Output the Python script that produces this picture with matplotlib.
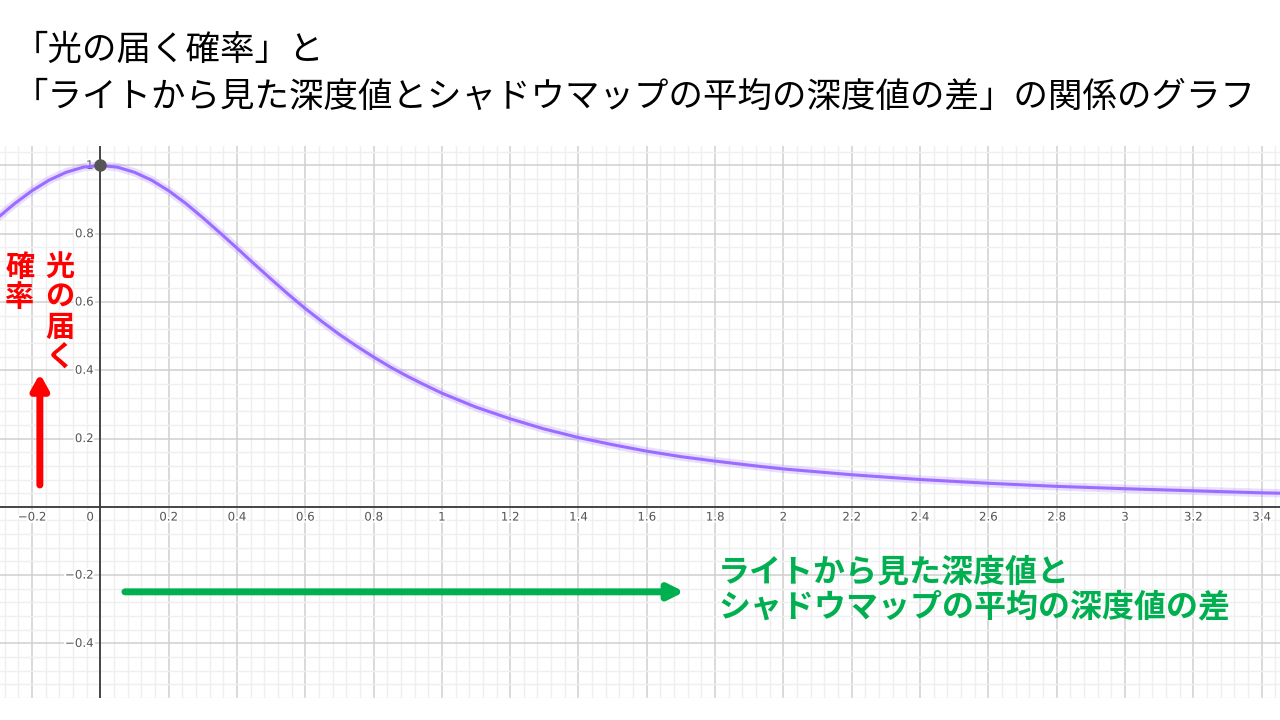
import numpy as np
import matplotlib.pyplot as plt
import matplotlib.patheffects as pe

plt.rcParams['font.family'] = ['Noto Sans CJK JP', 'DejaVu Sans']

# ================== DATA ============================================
depth_diff = [-0.3, -0.25, -0.2, -0.15, -0.1, -0.05, 0.0, 0.05, 0.1, 0.15, 0.2, 0.25,
              0.3, 0.35, 0.4, 0.45, 0.5, 0.55, 0.6, 0.65, 0.7, 0.75, 0.8, 0.85, 0.9,
              0.95, 1.0, 1.1, 1.2, 1.3, 1.4, 1.5, 1.6, 1.7, 1.8, 1.9, 2.0, 2.2, 2.4,
              2.6, 2.8, 3.0, 3.2, 3.4, 3.5]
light_prob = [0.847, 0.889, 0.926, 0.957, 0.980, 0.995, 1.0, 0.995, 0.980, 0.957, 0.926, 0.889,
              0.847, 0.803, 0.758, 0.712, 0.667, 0.623, 0.581, 0.542, 0.505, 0.471, 0.439, 0.409, 0.382,
              0.357, 0.333, 0.292, 0.258, 0.228, 0.203, 0.182, 0.163, 0.147, 0.134, 0.122, 0.111, 0.094, 0.080,
              0.069, 0.060, 0.053, 0.047, 0.041, 0.039]
peak = (0.0, 1.0)

x_ticks = [-0.2, 0.2, 0.4, 0.6, 0.8, 1, 1.2, 1.4, 1.6, 1.8, 2, 2.2, 2.4, 2.6, 2.8, 3, 3.2, 3.4]
y_ticks = [-0.4, -0.2, 0.2, 0.4, 0.6, 0.8, 1]

title_lines = ["「光の届く確率」と",
               "「ライトから見た深度値とシャドウマップの平均の深度値の差」の関係のグラフ"]
y_label_cols = ["光\nの\n届\nく", "確\n率"]
x_label = "ライトから見た深度値と\nシャドウマップの平均の深度値の差"

# ================== FIGURE ===================
W, H = 1280, 720
fig = plt.figure(figsize=(W / 100, H / 100), dpi=100)
ax = fig.add_axes([0, (H - 698) / H, 1, (698 - 146) / H])
ax.set_xlim(-0.2937, 3.454)
ax.set_ylim(-0.559, 1.057)
for s in ax.spines.values():
    s.set_visible(False)

# grid
ax.set_xticks(np.arange(-0.2, 3.5, 0.2))
ax.set_yticks(np.arange(-0.4, 1.1, 0.2))
ax.set_xticks(np.arange(-0.28, 3.46, 0.04), minor=True)
ax.set_yticks(np.arange(-0.56, 1.06, 0.04), minor=True)
ax.grid(which='major', color='#cfcfcf', lw=1.1)
ax.grid(which='minor', color='#efefef', lw=1.0)
ax.tick_params(which='both', length=0, labelbottom=False, labelleft=False)
ax.set_axisbelow(True)
ax.axhline(0, color='#3a3a3a', lw=1.3, zorder=2)
ax.axvline(0, color='#3a3a3a', lw=1.3, zorder=2)

# tick labels (Desmos style)
halo = [pe.withStroke(linewidth=3, foreground='white')]
for t in x_ticks:
    ax.text(t, -0.03, f"{t:g}".replace('-', '\u2212'), ha='center', va='center',
            fontsize=8.5, color='#555555', family='DejaVu Sans', path_effects=halo, zorder=3)
ax.text(-0.03, -0.03, "0", ha='center', va='center', fontsize=8.5, color='#555555',
        family='DejaVu Sans', path_effects=halo, zorder=3)
for t in y_ticks:
    ax.text(-0.02, t, f"{t:g}".replace('-', '\u2212'), ha='right', va='center',
            fontsize=8.5, color='#555555', family='DejaVu Sans', path_effects=halo, zorder=3)

# curve with glow
ax.plot(depth_diff, light_prob, color='#a57cff', lw=6, alpha=0.25, zorder=4,
        solid_capstyle='round')
ax.plot(depth_diff, light_prob, color='#9b6cff', lw=2.2, zorder=5)
ax.plot(*peak, 'o', color='#555555', ms=8, zorder=6)

# arrows
ax.annotate('', xy=(-0.177, 0.39), xytext=(-0.177, 0.064),
            arrowprops=dict(arrowstyle='-|>,head_width=0.5,head_length=0.9',
                            color='#ff0000', lw=5, shrinkA=0, shrinkB=0), zorder=7)
ax.annotate('', xy=(1.71, -0.249), xytext=(0.072, -0.249),
            arrowprops=dict(arrowstyle='-|>,head_width=0.45,head_length=0.9',
                            color='#00b050', lw=5, shrinkA=0, shrinkB=0), zorder=7)

# texts
for i, line in enumerate(title_lines):
    fig.text(14 / W, 1 - (50 + 47 * i) / H, line, ha='left', va='center',
             fontsize=24.8, color='black')

fig.text(60 / W, 1 - 252 / H, y_label_cols[0], ha='center', va='top', fontsize=21,
         fontweight='bold', color='#ff0000', linespacing=1.0)
fig.text(20 / W, 1 - 252 / H, y_label_cols[1], ha='center', va='top', fontsize=21,
         fontweight='bold', color='#ff0000', linespacing=1.0)
fig.text(718 / W, 1 - 590 / H, x_label, ha='left', va='center', fontsize=23,
         fontweight='bold', color='#00b050', linespacing=1.12)

fig.savefig('out.png', dpi=100)
